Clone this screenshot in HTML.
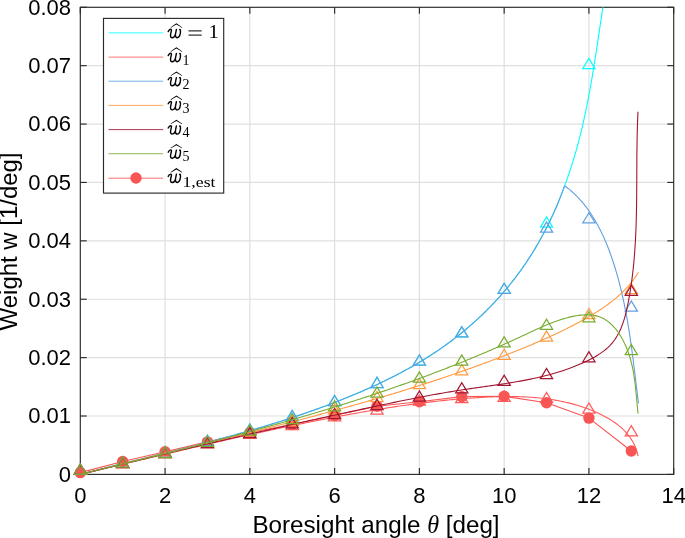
<!DOCTYPE html>
<html><head><meta charset="utf-8"><style>
html,body{margin:0;padding:0;background:#fff;}
svg{display:block;will-change:transform;}

</style></head><body>
<svg width="685" height="538" viewBox="0 0 685 538">
<rect width="685" height="538" fill="#fff"/>
<g><line x1="165.07" y1="7.3" x2="165.07" y2="474.4" stroke="#dfdfdf" stroke-width="1.2"/><line x1="249.84" y1="7.3" x2="249.84" y2="474.4" stroke="#dfdfdf" stroke-width="1.2"/><line x1="334.62" y1="7.3" x2="334.62" y2="474.4" stroke="#dfdfdf" stroke-width="1.2"/><line x1="419.39" y1="7.3" x2="419.39" y2="474.4" stroke="#dfdfdf" stroke-width="1.2"/><line x1="504.16" y1="7.3" x2="504.16" y2="474.4" stroke="#dfdfdf" stroke-width="1.2"/><line x1="588.93" y1="7.3" x2="588.93" y2="474.4" stroke="#dfdfdf" stroke-width="1.2"/><line x1="80.3" y1="416.01" x2="673.7" y2="416.01" stroke="#dfdfdf" stroke-width="1.2"/><line x1="80.3" y1="357.62" x2="673.7" y2="357.62" stroke="#dfdfdf" stroke-width="1.2"/><line x1="80.3" y1="299.23" x2="673.7" y2="299.23" stroke="#dfdfdf" stroke-width="1.2"/><line x1="80.3" y1="240.84" x2="673.7" y2="240.84" stroke="#dfdfdf" stroke-width="1.2"/><line x1="80.3" y1="182.45" x2="673.7" y2="182.45" stroke="#dfdfdf" stroke-width="1.2"/><line x1="80.3" y1="124.06" x2="673.7" y2="124.06" stroke="#dfdfdf" stroke-width="1.2"/><line x1="80.3" y1="65.67" x2="673.7" y2="65.67" stroke="#dfdfdf" stroke-width="1.2"/></g>
<defs><clipPath id="cp"><rect x="80.3" y="7.3" width="593.4" height="467.1"/></clipPath></defs>
<g><rect x="80.3" y="7.3" width="593.4" height="467.1" fill="none" stroke="#2a2a2a" stroke-width="1.15"/><line x1="80.30" y1="474.4" x2="80.30" y2="468.00" stroke="#2a2a2a" stroke-width="1.15"/><line x1="80.30" y1="7.3" x2="80.30" y2="13.70" stroke="#2a2a2a" stroke-width="1.15"/><line x1="165.07" y1="474.4" x2="165.07" y2="468.00" stroke="#2a2a2a" stroke-width="1.15"/><line x1="165.07" y1="7.3" x2="165.07" y2="13.70" stroke="#2a2a2a" stroke-width="1.15"/><line x1="249.84" y1="474.4" x2="249.84" y2="468.00" stroke="#2a2a2a" stroke-width="1.15"/><line x1="249.84" y1="7.3" x2="249.84" y2="13.70" stroke="#2a2a2a" stroke-width="1.15"/><line x1="334.62" y1="474.4" x2="334.62" y2="468.00" stroke="#2a2a2a" stroke-width="1.15"/><line x1="334.62" y1="7.3" x2="334.62" y2="13.70" stroke="#2a2a2a" stroke-width="1.15"/><line x1="419.39" y1="474.4" x2="419.39" y2="468.00" stroke="#2a2a2a" stroke-width="1.15"/><line x1="419.39" y1="7.3" x2="419.39" y2="13.70" stroke="#2a2a2a" stroke-width="1.15"/><line x1="504.16" y1="474.4" x2="504.16" y2="468.00" stroke="#2a2a2a" stroke-width="1.15"/><line x1="504.16" y1="7.3" x2="504.16" y2="13.70" stroke="#2a2a2a" stroke-width="1.15"/><line x1="588.93" y1="474.4" x2="588.93" y2="468.00" stroke="#2a2a2a" stroke-width="1.15"/><line x1="588.93" y1="7.3" x2="588.93" y2="13.70" stroke="#2a2a2a" stroke-width="1.15"/><line x1="673.70" y1="474.4" x2="673.70" y2="468.00" stroke="#2a2a2a" stroke-width="1.15"/><line x1="673.70" y1="7.3" x2="673.70" y2="13.70" stroke="#2a2a2a" stroke-width="1.15"/><line x1="80.3" y1="474.40" x2="86.70" y2="474.40" stroke="#2a2a2a" stroke-width="1.15"/><line x1="673.7" y1="474.40" x2="667.30" y2="474.40" stroke="#2a2a2a" stroke-width="1.15"/><line x1="80.3" y1="416.01" x2="86.70" y2="416.01" stroke="#2a2a2a" stroke-width="1.15"/><line x1="673.7" y1="416.01" x2="667.30" y2="416.01" stroke="#2a2a2a" stroke-width="1.15"/><line x1="80.3" y1="357.62" x2="86.70" y2="357.62" stroke="#2a2a2a" stroke-width="1.15"/><line x1="673.7" y1="357.62" x2="667.30" y2="357.62" stroke="#2a2a2a" stroke-width="1.15"/><line x1="80.3" y1="299.23" x2="86.70" y2="299.23" stroke="#2a2a2a" stroke-width="1.15"/><line x1="673.7" y1="299.23" x2="667.30" y2="299.23" stroke="#2a2a2a" stroke-width="1.15"/><line x1="80.3" y1="240.84" x2="86.70" y2="240.84" stroke="#2a2a2a" stroke-width="1.15"/><line x1="673.7" y1="240.84" x2="667.30" y2="240.84" stroke="#2a2a2a" stroke-width="1.15"/><line x1="80.3" y1="182.45" x2="86.70" y2="182.45" stroke="#2a2a2a" stroke-width="1.15"/><line x1="673.7" y1="182.45" x2="667.30" y2="182.45" stroke="#2a2a2a" stroke-width="1.15"/><line x1="80.3" y1="124.06" x2="86.70" y2="124.06" stroke="#2a2a2a" stroke-width="1.15"/><line x1="673.7" y1="124.06" x2="667.30" y2="124.06" stroke="#2a2a2a" stroke-width="1.15"/><line x1="80.3" y1="65.67" x2="86.70" y2="65.67" stroke="#2a2a2a" stroke-width="1.15"/><line x1="673.7" y1="65.67" x2="667.30" y2="65.67" stroke="#2a2a2a" stroke-width="1.15"/><line x1="80.3" y1="7.28" x2="86.70" y2="7.28" stroke="#2a2a2a" stroke-width="1.15"/><line x1="673.7" y1="7.28" x2="667.30" y2="7.28" stroke="#2a2a2a" stroke-width="1.15"/></g>
<g><g clip-path="url(#cp)"><path d="M80.30,474.40 L82.21,473.90 L84.12,473.41 L86.03,472.91 L87.94,472.42 L89.85,471.92 L91.77,471.43 L93.68,470.94 L95.59,470.45 L97.51,469.97 L99.42,469.48 L101.34,468.99 L103.25,468.51 L105.17,468.02 L107.08,467.54 L109.00,467.06 L110.92,466.58 L112.84,466.10 L114.75,465.62 L116.67,465.14 L118.59,464.66 L120.51,464.18 L122.43,463.70 L124.35,463.22 L126.27,462.74 L128.19,462.27 L130.11,461.79 L132.03,461.31 L133.95,460.84 L135.87,460.36 L137.79,459.89 L139.72,459.41 L141.64,458.93 L143.56,458.46 L145.48,457.98 L147.40,457.51 L149.32,457.03 L151.25,456.55 L153.17,456.08 L155.09,455.60 L157.01,455.12 L158.94,454.64 L160.86,454.16 L162.78,453.69 L164.70,453.21 L166.62,452.73 L168.54,452.25 L170.47,451.77 L172.39,451.28 L174.31,450.80 L176.23,450.32 L178.15,449.83 L180.07,449.35 L181.99,448.86 L183.91,448.37 L185.83,447.89 L187.75,447.40 L189.67,446.91 L191.59,446.42 L193.51,445.92 L195.43,445.43 L197.35,444.93 L199.27,444.44 L201.18,443.94 L203.10,443.44 L205.02,442.94 L206.94,442.44 L208.85,441.93 L210.77,441.43 L212.68,440.92 L214.60,440.41 L216.51,439.90 L218.42,439.39 L220.34,438.87 L222.25,438.36 L224.16,437.84 L226.07,437.32 L227.98,436.80 L229.89,436.27 L231.80,435.74 L233.71,435.22 L235.62,434.69 L237.53,434.15 L239.43,433.62 L241.34,433.08 L243.24,432.54 L245.15,432.00 L247.05,431.45 L248.96,430.90 L250.86,430.35 L252.76,429.80 L254.66,429.24 L256.56,428.69 L258.46,428.13 L260.36,427.56 L262.25,427.00 L264.15,426.43 L266.04,425.85 L267.94,425.28 L269.83,424.70 L271.72,424.12 L273.61,423.53 L275.50,422.95 L277.39,422.35 L279.28,421.76 L281.17,421.16 L283.05,420.56 L284.94,419.96 L286.82,419.35 L288.70,418.74 L290.58,418.12 L292.46,417.50 L294.34,416.88 L296.22,416.26 L298.10,415.63 L299.97,414.99 L301.85,414.36 L303.72,413.72 L305.59,413.07 L307.46,412.42 L309.33,411.77 L311.20,411.11 L313.06,410.45 L314.93,409.79 L316.79,409.12 L318.65,408.44 L320.51,407.77 L322.37,407.09 L324.23,406.40 L326.09,405.71 L327.94,405.01 L329.79,404.31 L331.64,403.61 L333.49,402.90 L335.34,402.19 L337.19,401.47 L339.03,400.75 L340.88,400.02 L342.72,399.29 L344.56,398.55 L346.40,397.81 L348.24,397.06 L350.07,396.31 L351.91,395.55 L353.74,394.79 L355.57,394.02 L357.40,393.25 L359.22,392.47 L361.04,391.69 L362.87,390.90 L364.69,390.10 L366.50,389.30 L368.32,388.50 L370.13,387.69 L371.94,386.87 L373.74,386.04 L375.54,385.21 L377.34,384.38 L379.14,383.54 L380.94,382.69 L382.73,381.83 L384.51,380.97 L386.30,380.10 L388.08,379.23 L389.85,378.35 L391.63,377.46 L393.39,376.56 L395.16,375.66 L396.92,374.75 L398.68,373.84 L400.43,372.91 L402.18,371.98 L403.92,371.04 L405.66,370.10 L407.40,369.14 L409.13,368.18 L410.85,367.21 L412.57,366.24 L414.29,365.25 L416.00,364.26 L417.70,363.26 L419.40,362.25 L421.10,361.24 L422.79,360.21 L424.47,359.18 L426.15,358.14 L427.82,357.09 L429.49,356.03 L431.15,354.96 L432.81,353.89 L434.46,352.80 L436.10,351.71 L437.74,350.61 L439.37,349.50 L440.99,348.37 L442.61,347.25 L444.22,346.11 L445.82,344.96 L447.42,343.80 L449.01,342.63 L450.60,341.46 L452.17,340.28 L453.74,339.08 L455.31,337.88 L456.86,336.67 L458.41,335.45 L459.96,334.22 L461.49,332.98 L463.02,331.74 L464.54,330.48 L466.05,329.22 L467.56,327.94 L469.05,326.66 L470.54,325.37 L472.03,324.07 L473.50,322.77 L474.97,321.45 L476.43,320.12 L477.88,318.79 L479.32,317.45 L480.76,316.10 L482.19,314.74 L483.60,313.37 L485.02,311.99 L486.42,310.61 L487.81,309.22 L489.20,307.82 L490.58,306.41 L491.94,304.99 L493.30,303.56 L494.66,302.13 L496.00,300.68 L497.33,299.23 L498.66,297.77 L499.97,296.30 L501.28,294.83 L502.58,293.34 L503.87,291.85 L505.15,290.35 L506.42,288.84 L507.68,287.32 L508.93,285.80 L510.17,284.27 L511.41,282.72 L512.63,281.18 L513.85,279.62 L515.05,278.05 L516.24,276.48 L517.43,274.90 L518.60,273.31 L519.77,271.71 L520.93,270.11 L522.07,268.50 L523.21,266.88 L524.33,265.25 L525.45,263.62 L526.55,261.98 L527.65,260.33 L528.74,258.67 L529.81,257.01 L530.88,255.34 L531.93,253.67 L532.98,251.98 L534.02,250.29 L535.04,248.60 L536.06,246.89 L537.07,245.19 L538.06,243.47 L539.05,241.75 L540.02,240.02 L540.99,238.29 L541.95,236.55 L542.89,234.80 L543.83,233.05 L544.76,231.30 L545.67,229.53 L546.58,227.77 L547.47,225.99 L548.36,224.21 L549.23,222.43 L550.10,220.64 L550.95,218.85 L551.80,217.05 L552.63,215.25 L553.46,213.44 L554.27,211.62 L555.08,209.81 L555.87,207.98 L556.65,206.16 L557.43,204.33 L558.19,202.49 L558.94,200.65 L559.69,198.81 L560.42,196.96 L561.14,195.11 L561.85,193.26 L562.56,191.40 L563.25,189.53 L563.93,187.67 L564.60,185.80" fill="none" stroke="#00ffff" stroke-width="1.1" stroke-linejoin="round"/><path d="M564.60,185.80 L564.83,185.20 L565.05,184.59 L565.28,183.99 L565.50,183.38 L565.73,182.78 L565.95,182.17 L566.17,181.57 L566.39,180.96 L566.61,180.35 L566.83,179.75 L567.05,179.14 L567.27,178.53 L567.48,177.92 L567.70,177.32 L567.91,176.71 L568.12,176.10 L568.33,175.49 L568.54,174.88 L568.75,174.27 L568.96,173.67 L569.17,173.06 L569.38,172.45 L569.58,171.84 L569.79,171.23 L569.99,170.62 L570.20,170.00 L570.40,169.39 L570.60,168.78 L570.80,168.17 L571.00,167.56 L571.20,166.95 L571.39,166.33 L571.59,165.72 L571.79,165.11 L571.98,164.50 L572.17,163.88 L572.37,163.27 L572.56,162.65 L572.75,162.04 L572.94,161.43 L573.13,160.81 L573.32,160.20 L573.51,159.58 L573.69,158.97 L573.88,158.35 L574.06,157.74 L574.25,157.12 L574.43,156.50 L574.61,155.89 L574.79,155.27 L574.97,154.65 L575.15,154.04 L575.33,153.42 L575.51,152.80 L575.69,152.18 L575.87,151.57 L576.04,150.95 L576.22,150.33 L576.39,149.71 L576.56,149.09 L576.74,148.47 L576.91,147.85 L577.08,147.24 L577.25,146.62 L577.42,146.00 L577.59,145.38 L577.75,144.76 L577.92,144.14 L578.09,143.51 L578.25,142.89 L578.42,142.27 L578.58,141.65 L578.74,141.03 L578.91,140.41 L579.07,139.79 L579.23,139.17 L579.39,138.54 L579.55,137.92 L579.71,137.30 L579.87,136.68 L580.02,136.05 L580.18,135.43 L580.34,134.81 L580.49,134.18 L580.64,133.56 L580.80,132.93 L580.95,132.31 L581.10,131.69 L581.26,131.06 L581.41,130.44 L581.56,129.81 L581.71,129.19 L581.86,128.56 L582.00,127.94 L582.15,127.31 L582.30,126.69 L582.44,126.06 L582.59,125.44 L582.74,124.81 L582.88,124.18 L583.02,123.56 L583.17,122.93 L583.31,122.30 L583.45,121.68 L583.59,121.05 L583.73,120.42 L583.87,119.79 L584.01,119.17 L584.15,118.54 L584.29,117.91 L584.43,117.28 L584.56,116.66 L584.70,116.03 L584.84,115.40 L584.97,114.77 L585.11,114.14 L585.24,113.51 L585.37,112.88 L585.51,112.26 L585.64,111.63 L585.77,111.00 L585.90,110.37 L586.03,109.74 L586.16,109.11 L586.29,108.48 L586.42,107.85 L586.55,107.22 L586.68,106.59 L586.81,105.96 L586.93,105.33 L587.06,104.70 L587.19,104.07 L587.31,103.43 L587.44,102.80 L587.56,102.17 L587.68,101.54 L587.81,100.91 L587.93,100.28 L588.05,99.65 L588.18,99.02 L588.30,98.38 L588.42,97.75 L588.54,97.12 L588.66,96.49 L588.78,95.86 L588.90,95.22 L589.02,94.59 L589.14,93.96 L589.25,93.33 L589.37,92.69 L589.49,92.06 L589.60,91.43 L589.72,90.79 L589.84,90.16 L589.95,89.53 L590.07,88.89 L590.18,88.26 L590.30,87.63 L590.41,86.99 L590.52,86.36 L590.64,85.73 L590.75,85.09 L590.86,84.46 L590.97,83.82 L591.08,83.19 L591.19,82.56 L591.31,81.92 L591.42,81.29 L591.53,80.65 L591.64,80.02 L591.74,79.38 L591.85,78.75 L591.96,78.11 L592.07,77.48 L592.18,76.84 L592.29,76.21 L592.39,75.58 L592.50,74.94 L592.61,74.30 L592.71,73.67 L592.82,73.03 L592.92,72.40 L593.03,71.76 L593.13,71.13 L593.24,70.49 L593.34,69.86 L593.45,69.22 L593.55,68.59 L593.66,67.95 L593.76,67.32 L593.86,66.68 L593.97,66.04 L594.07,65.41 L594.17,64.77 L594.27,64.14 L594.37,63.50 L594.48,62.86 L594.58,62.23 L594.68,61.59 L594.78,60.96 L594.88,60.32 L594.98,59.68 L595.08,59.05 L595.18,58.41 L595.28,57.77 L595.38,57.14 L595.48,56.50 L595.58,55.87 L595.68,55.23 L595.78,54.59 L595.87,53.96 L595.97,53.32 L596.07,52.68 L596.17,52.05 L596.27,51.41 L596.36,50.77 L596.46,50.14 L596.56,49.50 L596.66,48.86 L596.75,48.23 L596.85,47.59 L596.95,46.95 L597.04,46.32 L597.14,45.68 L597.24,45.04 L597.33,44.41 L597.43,43.77 L597.53,43.13 L597.62,42.50 L597.72,41.86 L597.81,41.22 L597.91,40.59 L598.00,39.95 L598.10,39.31 L598.19,38.68 L598.29,38.04 L598.39,37.40 L598.48,36.77 L598.58,36.13 L598.67,35.49 L598.77,34.86 L598.86,34.22 L598.95,33.58 L599.05,32.95 L599.14,32.31 L599.24,31.67 L599.33,31.04 L599.43,30.40 L599.52,29.76 L599.62,29.13 L599.71,28.49 L599.81,27.86 L599.90,27.22 L599.99,26.58 L600.09,25.95 L600.18,25.31 L600.28,24.67 L600.37,24.04 L600.47,23.40 L600.56,22.77 L600.66,22.13 L600.75,21.49 L600.85,20.86 L600.94,20.22 L601.03,19.59 L601.13,18.95 L601.22,18.31 L601.32,17.68 L601.41,17.04 L601.51,16.41 L601.60,15.77 L601.70,15.14 L601.79,14.50 L601.89,13.86 L601.98,13.23 L602.08,12.59 L602.17,11.96 L602.27,11.32 L602.36,10.69 L602.46,10.05 L602.56,9.42 L602.65,8.78 L602.75,8.15 L602.84,7.51 L602.94,6.88 L603.04,6.24 L603.13,5.61 L603.23,4.97 L603.33,4.34 L603.42,3.71 L603.52,3.07 L603.62,2.44 L603.71,1.80 L603.81,1.17 L603.91,0.54 L604.01,-0.10 L604.10,-0.73 L604.20,-1.37 L604.30,-2.00" fill="none" stroke="#00ffff" stroke-width="1.1" stroke-linejoin="round"/></g><path d="M74.20,474.40L86.40,474.40L80.30,464.20Z" fill="none" stroke="#00ffff" stroke-width="1.25" stroke-linejoin="miter"/><path d="M116.59,467.49L128.79,467.49L122.69,457.29Z" fill="none" stroke="#00ffff" stroke-width="1.25" stroke-linejoin="miter"/><path d="M158.97,456.63L171.17,456.63L165.07,446.43Z" fill="none" stroke="#00ffff" stroke-width="1.25" stroke-linejoin="miter"/><path d="M201.36,445.30L213.56,445.30L207.46,435.10Z" fill="none" stroke="#00ffff" stroke-width="1.25" stroke-linejoin="miter"/><path d="M243.74,434.09L255.94,434.09L249.84,423.89Z" fill="none" stroke="#00ffff" stroke-width="1.25" stroke-linejoin="miter"/><path d="M286.13,420.60L298.33,420.60L292.23,410.40Z" fill="none" stroke="#00ffff" stroke-width="1.25" stroke-linejoin="miter"/><path d="M328.52,405.70L340.72,405.70L334.62,395.50Z" fill="none" stroke="#00ffff" stroke-width="1.25" stroke-linejoin="miter"/><path d="M370.90,387.50L383.10,387.50L377.00,377.30Z" fill="none" stroke="#00ffff" stroke-width="1.25" stroke-linejoin="miter"/><path d="M413.29,365.10L425.49,365.10L419.39,354.90Z" fill="none" stroke="#00ffff" stroke-width="1.25" stroke-linejoin="miter"/><path d="M455.67,336.90L467.87,336.90L461.77,326.70Z" fill="none" stroke="#00ffff" stroke-width="1.25" stroke-linejoin="miter"/><path d="M498.06,293.30L510.26,293.30L504.16,283.10Z" fill="none" stroke="#00ffff" stroke-width="1.25" stroke-linejoin="miter"/><path d="M540.45,227.10L552.65,227.10L546.55,216.90Z" fill="none" stroke="#00ffff" stroke-width="1.25" stroke-linejoin="miter"/><path d="M582.83,68.70L595.03,68.70L588.93,58.50Z" fill="none" stroke="#00ffff" stroke-width="1.25" stroke-linejoin="miter"/><g clip-path="url(#cp)"><path d="M80.30,474.40 L82.21,473.95 L84.11,473.50 L86.02,473.04 L87.93,472.59 L89.84,472.13 L91.75,471.68 L93.66,471.23 L95.57,470.77 L97.48,470.32 L99.39,469.86 L101.30,469.41 L103.21,468.95 L105.12,468.49 L107.03,468.04 L108.94,467.58 L110.85,467.12 L112.76,466.67 L114.68,466.21 L116.59,465.75 L118.50,465.30 L120.42,464.84 L122.33,464.38 L124.24,463.92 L126.16,463.47 L128.07,463.01 L129.99,462.55 L131.90,462.09 L133.82,461.63 L135.73,461.18 L137.65,460.72 L139.56,460.26 L141.48,459.80 L143.40,459.35 L145.31,458.89 L147.23,458.43 L149.15,457.98 L151.07,457.52 L152.98,457.06 L154.90,456.61 L156.82,456.15 L158.74,455.69 L160.66,455.24 L162.58,454.78 L164.50,454.33 L166.41,453.87 L168.33,453.42 L170.25,452.96 L172.17,452.51 L174.10,452.06 L176.02,451.60 L177.94,451.15 L179.86,450.70 L181.78,450.25 L183.70,449.79 L185.62,449.34 L187.54,448.89 L189.47,448.44 L191.39,447.99 L193.31,447.54 L195.23,447.09 L197.16,446.65 L199.08,446.20 L201.00,445.75 L202.93,445.31 L204.85,444.86 L206.77,444.42 L208.70,443.97 L210.62,443.53 L212.55,443.08 L214.47,442.64 L216.40,442.20 L218.32,441.76 L220.25,441.32 L222.17,440.88 L224.10,440.44 L226.02,440.00 L227.95,439.57 L229.87,439.13 L231.80,438.70 L233.73,438.26 L235.65,437.83 L237.58,437.39 L239.51,436.96 L241.43,436.53 L243.36,436.10 L245.29,435.67 L247.22,435.25 L249.14,434.82 L251.07,434.39 L253.00,433.97 L254.93,433.54 L256.85,433.12 L258.78,432.70 L260.71,432.28 L262.64,431.86 L264.57,431.44 L266.50,431.02 L268.42,430.61 L270.35,430.19 L272.28,429.78 L274.21,429.37 L276.14,428.96 L278.07,428.55 L280.00,428.14 L281.93,427.73 L283.86,427.32 L285.79,426.92 L287.72,426.52 L289.65,426.11 L291.58,425.71 L293.51,425.31 L295.44,424.92 L297.37,424.52 L299.30,424.12 L301.23,423.73 L303.16,423.34 L305.09,422.95 L307.02,422.56 L308.95,422.17 L310.88,421.78 L312.81,421.40 L314.74,421.02 L316.67,420.63 L318.60,420.25 L320.53,419.88 L322.46,419.50 L324.39,419.12 L326.32,418.75 L328.26,418.38 L330.19,418.01 L332.12,417.64 L334.05,417.27 L335.98,416.91 L337.91,416.55 L339.84,416.18 L341.77,415.82 L343.71,415.47 L345.64,415.11 L347.57,414.76 L349.50,414.40 L351.43,414.05 L353.36,413.71 L355.29,413.36 L357.23,413.01 L359.16,412.67 L361.09,412.33 L363.02,411.99 L364.95,411.66 L366.89,411.32 L368.82,410.99 L370.75,410.66 L372.68,410.34 L374.62,410.01 L376.55,409.69 L378.49,409.37 L380.42,409.05 L382.35,408.74 L384.29,408.43 L386.23,408.12 L388.16,407.81 L390.10,407.51 L392.04,407.21 L393.97,406.91 L395.91,406.62 L397.85,406.33 L399.79,406.04 L401.73,405.75 L403.67,405.47 L405.61,405.19 L407.55,404.92 L409.50,404.65 L411.44,404.38 L413.39,404.11 L415.33,403.85 L417.28,403.59 L419.22,403.34 L421.17,403.09 L423.12,402.84 L425.07,402.59 L427.02,402.35 L428.97,402.12 L430.93,401.89 L432.88,401.66 L434.83,401.43 L436.79,401.21 L438.75,401.00 L440.71,400.78 L442.66,400.58 L444.63,400.37 L446.59,400.17 L448.55,399.98 L450.51,399.78 L452.48,399.60 L454.45,399.41 L456.41,399.24 L458.38,399.06 L460.35,398.89 L462.33,398.73 L464.30,398.57 L466.27,398.42 L468.25,398.27 L470.23,398.12 L472.21,397.98 L474.19,397.85 L476.17,397.71 L478.16,397.59 L480.14,397.47 L482.13,397.36 L484.12,397.25 L486.10,397.15 L488.09,397.05 L490.08,396.96 L492.07,396.88 L494.06,396.81 L496.06,396.75 L498.05,396.69 L500.04,396.64 L502.03,396.61 L504.02,396.58 L506.01,396.56 L508.00,396.55 L509.98,396.55 L511.97,396.56 L513.96,396.58 L515.94,396.61 L517.92,396.66 L519.91,396.72 L521.89,396.78 L523.86,396.87 L525.84,396.96 L527.81,397.07 L529.79,397.19 L531.75,397.32 L533.72,397.47 L535.68,397.63 L537.64,397.81 L539.60,398.00 L541.56,398.21 L543.51,398.43 L545.46,398.67 L547.40,398.93 L549.34,399.20 L551.28,399.49 L553.21,399.79 L555.14,400.12 L557.06,400.46 L558.98,400.82 L560.89,401.19 L562.80,401.59 L564.71,402.01 L566.61,402.44 L568.50,402.90 L570.39,403.37 L572.27,403.87 L574.15,404.38 L576.02,404.92 L577.89,405.48 L579.75,406.06 L581.60,406.66 L583.45,407.29 L585.29,407.93 L587.13,408.60 L588.95,409.30 L590.77,410.01 L592.59,410.75 L594.39,411.52 L596.19,412.31 L597.98,413.12 L599.76,413.96 L601.54,414.82 L603.30,415.72 L605.04,416.64 L606.77,417.59 L608.49,418.57 L610.17,419.58 L611.84,420.62 L613.48,421.70 L615.09,422.82 L616.67,423.97 L618.22,425.16 L619.73,426.39 L621.20,427.65 L622.63,428.96 L624.02,430.31 L625.36,431.71 L626.66,433.14 L627.90,434.63 L629.09,436.16 L630.23,437.73 L631.31,439.36 L632.33,441.03 L633.29,442.75 L634.19,444.52 L635.02,446.33 L635.78,448.20 L636.47,450.12 L637.09,452.10 L637.63,454.12 L638.10,456.20" fill="none" stroke="#ff5a5a" stroke-width="1.1" stroke-linejoin="round"/></g><path d="M74.20,474.40L86.40,474.40L80.30,464.20Z" fill="none" stroke="#ff5a5a" stroke-width="1.25" stroke-linejoin="miter"/><path d="M116.59,467.72L128.79,467.72L122.69,457.52Z" fill="none" stroke="#ff5a5a" stroke-width="1.25" stroke-linejoin="miter"/><path d="M158.97,457.68L171.17,457.68L165.07,447.48Z" fill="none" stroke="#ff5a5a" stroke-width="1.25" stroke-linejoin="miter"/><path d="M201.36,447.93L213.56,447.93L207.46,437.73Z" fill="none" stroke="#ff5a5a" stroke-width="1.25" stroke-linejoin="miter"/><path d="M243.74,438.29L255.94,438.29L249.84,428.09Z" fill="none" stroke="#ff5a5a" stroke-width="1.25" stroke-linejoin="miter"/><path d="M286.13,429.54L298.33,429.54L292.23,419.34Z" fill="none" stroke="#ff5a5a" stroke-width="1.25" stroke-linejoin="miter"/><path d="M328.52,420.78L340.72,420.78L334.62,410.58Z" fill="none" stroke="#ff5a5a" stroke-width="1.25" stroke-linejoin="miter"/><path d="M370.90,414.04L383.10,414.04L377.00,403.84Z" fill="none" stroke="#ff5a5a" stroke-width="1.25" stroke-linejoin="miter"/><path d="M413.29,405.07L425.49,405.07L419.39,394.87Z" fill="none" stroke="#ff5a5a" stroke-width="1.25" stroke-linejoin="miter"/><path d="M455.67,402.70L467.87,402.70L461.77,392.50Z" fill="none" stroke="#ff5a5a" stroke-width="1.25" stroke-linejoin="miter"/><path d="M498.06,401.40L510.26,401.40L504.16,391.20Z" fill="none" stroke="#ff5a5a" stroke-width="1.25" stroke-linejoin="miter"/><path d="M540.45,402.70L552.65,402.70L546.55,392.50Z" fill="none" stroke="#ff5a5a" stroke-width="1.25" stroke-linejoin="miter"/><path d="M582.83,413.10L595.03,413.10L588.93,402.90Z" fill="none" stroke="#ff5a5a" stroke-width="1.25" stroke-linejoin="miter"/><path d="M625.22,435.90L637.42,435.90L631.32,425.70Z" fill="none" stroke="#ff5a5a" stroke-width="1.25" stroke-linejoin="miter"/><g clip-path="url(#cp)"><polyline points="80.30,472.65 122.69,461.50 165.07,451.74 207.46,441.88 249.84,432.48 292.23,424.48 334.62,415.43 377.00,406.32 419.39,401.82 461.77,396.60 504.16,396.30 546.55,402.80 588.93,418.10 631.32,451.00" fill="none" stroke="#f85555" stroke-width="1.1" stroke-linejoin="round"/></g><circle cx="80.30" cy="472.65" r="5.7" fill="#f85555"/><circle cx="122.69" cy="461.50" r="5.7" fill="#f85555"/><circle cx="165.07" cy="451.74" r="5.7" fill="#f85555"/><circle cx="207.46" cy="441.88" r="5.7" fill="#f85555"/><circle cx="249.84" cy="432.48" r="5.7" fill="#f85555"/><circle cx="292.23" cy="424.48" r="5.7" fill="#f85555"/><circle cx="334.62" cy="415.43" r="5.7" fill="#f85555"/><circle cx="377.00" cy="406.32" r="5.7" fill="#f85555"/><circle cx="419.39" cy="401.82" r="5.7" fill="#f85555"/><circle cx="461.77" cy="396.60" r="5.7" fill="#f85555"/><circle cx="504.16" cy="396.30" r="5.7" fill="#f85555"/><circle cx="546.55" cy="402.80" r="5.7" fill="#f85555"/><circle cx="588.93" cy="418.10" r="5.7" fill="#f85555"/><circle cx="631.32" cy="451.00" r="5.7" fill="#f85555"/><g clip-path="url(#cp)"><path d="M80.30,474.40 L82.21,473.90 L84.12,473.41 L86.03,472.91 L87.94,472.42 L89.85,471.92 L91.77,471.43 L93.68,470.94 L95.59,470.45 L97.51,469.97 L99.42,469.48 L101.34,468.99 L103.25,468.51 L105.17,468.02 L107.08,467.54 L109.00,467.06 L110.92,466.58 L112.84,466.10 L114.75,465.62 L116.67,465.14 L118.59,464.66 L120.51,464.18 L122.43,463.70 L124.35,463.22 L126.27,462.74 L128.19,462.27 L130.11,461.79 L132.03,461.31 L133.95,460.84 L135.87,460.36 L137.79,459.89 L139.72,459.41 L141.64,458.93 L143.56,458.46 L145.48,457.98 L147.40,457.51 L149.32,457.03 L151.25,456.55 L153.17,456.08 L155.09,455.60 L157.01,455.12 L158.94,454.64 L160.86,454.16 L162.78,453.69 L164.70,453.21 L166.62,452.73 L168.54,452.25 L170.47,451.77 L172.39,451.28 L174.31,450.80 L176.23,450.32 L178.15,449.83 L180.07,449.35 L181.99,448.86 L183.91,448.37 L185.83,447.89 L187.75,447.40 L189.67,446.91 L191.59,446.42 L193.51,445.92 L195.43,445.43 L197.35,444.93 L199.27,444.44 L201.18,443.94 L203.10,443.44 L205.02,442.94 L206.94,442.44 L208.85,441.93 L210.77,441.43 L212.68,440.92 L214.60,440.41 L216.51,439.90 L218.42,439.39 L220.34,438.87 L222.25,438.36 L224.16,437.84 L226.07,437.32 L227.98,436.80 L229.89,436.27 L231.80,435.74 L233.71,435.22 L235.62,434.69 L237.53,434.15 L239.43,433.62 L241.34,433.08 L243.24,432.54 L245.15,432.00 L247.05,431.45 L248.96,430.90 L250.86,430.35 L252.76,429.80 L254.66,429.24 L256.56,428.69 L258.46,428.13 L260.36,427.56 L262.25,427.00 L264.15,426.43 L266.04,425.85 L267.94,425.28 L269.83,424.70 L271.72,424.12 L273.61,423.53 L275.50,422.95 L277.39,422.35 L279.28,421.76 L281.17,421.16 L283.05,420.56 L284.94,419.96 L286.82,419.35 L288.70,418.74 L290.58,418.12 L292.46,417.50 L294.34,416.88 L296.22,416.26 L298.10,415.63 L299.97,414.99 L301.85,414.36 L303.72,413.72 L305.59,413.07 L307.46,412.42 L309.33,411.77 L311.20,411.11 L313.06,410.45 L314.93,409.79 L316.79,409.12 L318.65,408.44 L320.51,407.77 L322.37,407.09 L324.23,406.40 L326.09,405.71 L327.94,405.01 L329.79,404.31 L331.64,403.61 L333.49,402.90 L335.34,402.19 L337.19,401.47 L339.03,400.75 L340.88,400.02 L342.72,399.29 L344.56,398.55 L346.40,397.81 L348.24,397.06 L350.07,396.31 L351.91,395.55 L353.74,394.79 L355.57,394.02 L357.40,393.25 L359.22,392.47 L361.04,391.69 L362.87,390.90 L364.69,390.10 L366.50,389.30 L368.32,388.50 L370.13,387.69 L371.94,386.87 L373.74,386.04 L375.54,385.21 L377.34,384.38 L379.14,383.54 L380.94,382.69 L382.73,381.83 L384.51,380.97 L386.30,380.10 L388.08,379.23 L389.85,378.35 L391.63,377.46 L393.39,376.56 L395.16,375.66 L396.92,374.75 L398.68,373.84 L400.43,372.91 L402.18,371.98 L403.92,371.04 L405.66,370.10 L407.40,369.14 L409.13,368.18 L410.85,367.21 L412.57,366.24 L414.29,365.25 L416.00,364.26 L417.70,363.26 L419.40,362.25 L421.10,361.24 L422.79,360.21 L424.47,359.18 L426.15,358.14 L427.82,357.09 L429.49,356.03 L431.15,354.96 L432.81,353.89 L434.46,352.80 L436.10,351.71 L437.74,350.61 L439.37,349.50 L440.99,348.37 L442.61,347.25 L444.22,346.11 L445.82,344.96 L447.42,343.80 L449.01,342.63 L450.60,341.46 L452.17,340.28 L453.74,339.08 L455.31,337.88 L456.86,336.67 L458.41,335.45 L459.96,334.22 L461.49,332.98 L463.02,331.74 L464.54,330.48 L466.05,329.22 L467.56,327.94 L469.05,326.66 L470.54,325.37 L472.03,324.07 L473.50,322.77 L474.97,321.45 L476.43,320.12 L477.88,318.79 L479.32,317.45 L480.76,316.10 L482.19,314.74 L483.60,313.37 L485.02,311.99 L486.42,310.61 L487.81,309.22 L489.20,307.82 L490.58,306.41 L491.94,304.99 L493.30,303.56 L494.66,302.13 L496.00,300.68 L497.33,299.23 L498.66,297.77 L499.97,296.30 L501.28,294.83 L502.58,293.34 L503.87,291.85 L505.15,290.35 L506.42,288.84 L507.68,287.32 L508.93,285.80 L510.17,284.27 L511.41,282.72 L512.63,281.18 L513.85,279.62 L515.05,278.05 L516.24,276.48 L517.43,274.90 L518.60,273.31 L519.77,271.71 L520.93,270.11 L522.07,268.50 L523.21,266.88 L524.33,265.25 L525.45,263.62 L526.55,261.98 L527.65,260.33 L528.74,258.67 L529.81,257.01 L530.88,255.34 L531.93,253.67 L532.98,251.98 L534.02,250.29 L535.04,248.60 L536.06,246.89 L537.07,245.19 L538.06,243.47 L539.05,241.75 L540.02,240.02 L540.99,238.29 L541.95,236.55 L542.89,234.80 L543.83,233.05 L544.76,231.30 L545.67,229.53 L546.58,227.77 L547.47,225.99 L548.36,224.21 L549.23,222.43 L550.10,220.64 L550.95,218.85 L551.80,217.05 L552.63,215.25 L553.46,213.44 L554.27,211.62 L555.08,209.81 L555.87,207.98 L556.65,206.16 L557.43,204.33 L558.19,202.49 L558.94,200.65 L559.69,198.81 L560.42,196.96 L561.14,195.11 L561.85,193.26 L562.56,191.40 L563.25,189.53 L563.93,187.67 L564.60,185.80" fill="none" stroke="#5fa0e0" stroke-width="1.1" stroke-linejoin="round"/><path d="M564.60,185.80 L565.25,186.27 L565.89,186.74 L566.53,187.22 L567.16,187.71 L567.78,188.20 L568.40,188.69 L569.02,189.19 L569.63,189.69 L570.24,190.20 L570.84,190.71 L571.43,191.23 L572.03,191.75 L572.61,192.27 L573.20,192.80 L573.77,193.33 L574.35,193.87 L574.91,194.41 L575.48,194.96 L576.04,195.51 L576.59,196.06 L577.14,196.62 L577.68,197.18 L578.22,197.74 L578.76,198.31 L579.29,198.89 L579.82,199.46 L580.34,200.04 L580.86,200.63 L581.38,201.22 L581.89,201.81 L582.39,202.40 L582.89,203.00 L583.39,203.60 L583.88,204.20 L584.37,204.81 L584.86,205.42 L585.34,206.04 L585.82,206.66 L586.29,207.28 L586.76,207.90 L587.22,208.53 L587.69,209.16 L588.14,209.79 L588.60,210.43 L589.05,211.07 L589.49,211.71 L589.93,212.35 L590.37,213.00 L590.81,213.65 L591.24,214.30 L591.67,214.96 L592.09,215.62 L592.51,216.28 L592.93,216.94 L593.34,217.61 L593.75,218.27 L594.16,218.95 L594.56,219.62 L594.97,220.29 L595.36,220.97 L595.76,221.65 L596.15,222.33 L596.53,223.01 L596.92,223.70 L597.30,224.39 L597.68,225.08 L598.05,225.77 L598.42,226.46 L598.79,227.16 L599.15,227.85 L599.52,228.55 L599.88,229.25 L600.23,229.96 L600.59,230.66 L600.94,231.37 L601.28,232.08 L601.63,232.79 L601.97,233.50 L602.31,234.21 L602.64,234.92 L602.98,235.64 L603.31,236.36 L603.64,237.08 L603.96,237.80 L604.28,238.52 L604.60,239.24 L604.92,239.97 L605.23,240.70 L605.54,241.42 L605.85,242.15 L606.16,242.88 L606.46,243.62 L606.76,244.35 L607.06,245.08 L607.36,245.82 L607.65,246.55 L607.94,247.29 L608.23,248.03 L608.52,248.77 L608.80,249.51 L609.09,250.25 L609.37,250.99 L609.64,251.74 L609.92,252.48 L610.19,253.23 L610.46,253.97 L610.73,254.72 L610.99,255.47 L611.26,256.22 L611.52,256.97 L611.78,257.72 L612.04,258.47 L612.29,259.22 L612.55,259.97 L612.80,260.72 L613.05,261.48 L613.29,262.23 L613.54,262.98 L613.78,263.74 L614.02,264.49 L614.26,265.25 L614.50,266.01 L614.74,266.76 L614.97,267.52 L615.20,268.28 L615.43,269.03 L615.66,269.79 L615.89,270.55 L616.11,271.31 L616.34,272.07 L616.56,272.83 L616.78,273.59 L617.00,274.35 L617.21,275.11 L617.43,275.87 L617.64,276.63 L617.85,277.39 L618.06,278.15 L618.27,278.91 L618.47,279.68 L618.68,280.44 L618.88,281.20 L619.08,281.97 L619.28,282.73 L619.48,283.49 L619.68,284.26 L619.87,285.02 L620.06,285.79 L620.26,286.55 L620.45,287.32 L620.63,288.09 L620.82,288.85 L621.01,289.62 L621.19,290.39 L621.37,291.15 L621.56,291.92 L621.74,292.69 L621.91,293.46 L622.09,294.23 L622.27,295.00 L622.44,295.77 L622.61,296.53 L622.78,297.30 L622.95,298.07 L623.12,298.85 L623.29,299.62 L623.46,300.39 L623.62,301.16 L623.78,301.93 L623.95,302.70 L624.11,303.47 L624.27,304.25 L624.43,305.02 L624.58,305.79 L624.74,306.56 L624.89,307.34 L625.05,308.11 L625.20,308.88 L625.35,309.66 L625.50,310.43 L625.65,311.21 L625.80,311.98 L625.94,312.76 L626.09,313.53 L626.23,314.31 L626.37,315.08 L626.52,315.86 L626.66,316.63 L626.80,317.41 L626.94,318.19 L627.07,318.96 L627.21,319.74 L627.35,320.52 L627.48,321.29 L627.62,322.07 L627.75,322.85 L627.88,323.62 L628.01,324.40 L628.14,325.18 L628.27,325.96 L628.40,326.74 L628.53,327.52 L628.65,328.29 L628.78,329.07 L628.90,329.85 L629.03,330.63 L629.15,331.41 L629.27,332.19 L629.39,332.97 L629.51,333.75 L629.63,334.53 L629.75,335.31 L629.87,336.09 L629.99,336.87 L630.10,337.65 L630.22,338.43 L630.33,339.21 L630.45,339.99 L630.56,340.77 L630.68,341.56 L630.79,342.34 L630.90,343.12 L631.01,343.90 L631.12,344.68 L631.23,345.46 L631.34,346.25 L631.45,347.03 L631.56,347.81 L631.67,348.59 L631.77,349.37 L631.88,350.16 L631.98,350.94 L632.09,351.72 L632.19,352.50 L632.30,353.29 L632.40,354.07 L632.51,354.85 L632.61,355.63 L632.71,356.42 L632.81,357.20 L632.92,357.98 L633.02,358.77 L633.12,359.55 L633.22,360.33 L633.32,361.11 L633.42,361.90 L633.52,362.68 L633.62,363.46 L633.71,364.25 L633.81,365.03 L633.91,365.82 L634.01,366.60 L634.11,367.38 L634.20,368.17 L634.30,368.95 L634.40,369.73 L634.49,370.52 L634.59,371.30 L634.69,372.08 L634.78,372.87 L634.88,373.65 L634.97,374.43 L635.07,375.22 L635.16,376.00 L635.26,376.78 L635.35,377.57 L635.45,378.35 L635.54,379.14 L635.64,379.92 L635.73,380.70 L635.83,381.49 L635.92,382.27 L636.02,383.05 L636.11,383.84 L636.21,384.62 L636.30,385.40 L636.39,386.19 L636.49,386.97 L636.58,387.75 L636.68,388.54 L636.77,389.32 L636.87,390.10 L636.96,390.88 L637.06,391.67 L637.15,392.45 L637.25,393.23 L637.34,394.01 L637.44,394.80 L637.53,395.58 L637.63,396.36 L637.72,397.14 L637.82,397.93 L637.92,398.71 L638.01,399.49 L638.11,400.27 L638.21,401.05 L638.30,401.84 L638.40,402.62 L638.50,403.40" fill="none" stroke="#5fa0e0" stroke-width="1.1" stroke-linejoin="round"/></g><path d="M74.20,474.40L86.40,474.40L80.30,464.20Z" fill="none" stroke="#5fa0e0" stroke-width="1.25" stroke-linejoin="miter"/><path d="M116.59,467.49L128.79,467.49L122.69,457.29Z" fill="none" stroke="#5fa0e0" stroke-width="1.25" stroke-linejoin="miter"/><path d="M158.97,456.63L171.17,456.63L165.07,446.43Z" fill="none" stroke="#5fa0e0" stroke-width="1.25" stroke-linejoin="miter"/><path d="M201.36,445.30L213.56,445.30L207.46,435.10Z" fill="none" stroke="#5fa0e0" stroke-width="1.25" stroke-linejoin="miter"/><path d="M243.74,434.09L255.94,434.09L249.84,423.89Z" fill="none" stroke="#5fa0e0" stroke-width="1.25" stroke-linejoin="miter"/><path d="M286.13,420.60L298.33,420.60L292.23,410.40Z" fill="none" stroke="#5fa0e0" stroke-width="1.25" stroke-linejoin="miter"/><path d="M328.52,405.70L340.72,405.70L334.62,395.50Z" fill="none" stroke="#5fa0e0" stroke-width="1.25" stroke-linejoin="miter"/><path d="M370.90,387.50L383.10,387.50L377.00,377.30Z" fill="none" stroke="#5fa0e0" stroke-width="1.25" stroke-linejoin="miter"/><path d="M413.29,365.10L425.49,365.10L419.39,354.90Z" fill="none" stroke="#5fa0e0" stroke-width="1.25" stroke-linejoin="miter"/><path d="M455.67,336.90L467.87,336.90L461.77,326.70Z" fill="none" stroke="#5fa0e0" stroke-width="1.25" stroke-linejoin="miter"/><path d="M498.06,293.30L510.26,293.30L504.16,283.10Z" fill="none" stroke="#5fa0e0" stroke-width="1.25" stroke-linejoin="miter"/><path d="M540.45,232.10L552.65,232.10L546.55,221.90Z" fill="none" stroke="#5fa0e0" stroke-width="1.25" stroke-linejoin="miter"/><path d="M582.83,222.80L595.03,222.80L588.93,212.60Z" fill="none" stroke="#5fa0e0" stroke-width="1.25" stroke-linejoin="miter"/><path d="M625.22,311.20L637.42,311.20L631.32,301.00Z" fill="none" stroke="#5fa0e0" stroke-width="1.25" stroke-linejoin="miter"/><g clip-path="url(#cp)"><path d="M80.30,474.40 L82.25,473.90 L84.19,473.40 L86.14,472.90 L88.08,472.40 L90.03,471.91 L91.97,471.41 L93.92,470.91 L95.87,470.42 L97.82,469.93 L99.77,469.43 L101.71,468.94 L103.66,468.45 L105.61,467.96 L107.56,467.47 L109.51,466.98 L111.46,466.49 L113.41,466.00 L115.36,465.52 L117.31,465.03 L119.26,464.55 L121.21,464.06 L123.17,463.58 L125.12,463.09 L127.07,462.61 L129.02,462.12 L130.98,461.64 L132.93,461.16 L134.88,460.68 L136.83,460.20 L138.79,459.72 L140.74,459.24 L142.70,458.76 L144.65,458.28 L146.60,457.80 L148.56,457.32 L150.51,456.84 L152.47,456.36 L154.42,455.88 L156.38,455.41 L158.33,454.93 L160.29,454.45 L162.24,453.97 L164.20,453.50 L166.15,453.02 L168.11,452.54 L170.07,452.07 L172.02,451.59 L173.98,451.12 L175.93,450.64 L177.89,450.16 L179.85,449.69 L181.80,449.21 L183.76,448.74 L185.72,448.26 L187.67,447.78 L189.63,447.31 L191.58,446.83 L193.54,446.36 L195.50,445.88 L197.45,445.40 L199.41,444.93 L201.37,444.45 L203.32,443.97 L205.28,443.50 L207.24,443.02 L209.19,442.54 L211.15,442.06 L213.11,441.59 L215.06,441.11 L217.02,440.63 L218.97,440.15 L220.93,439.67 L222.89,439.19 L224.84,438.71 L226.80,438.23 L228.75,437.75 L230.71,437.27 L232.67,436.79 L234.62,436.31 L236.58,435.82 L238.53,435.34 L240.49,434.86 L242.44,434.37 L244.40,433.89 L246.35,433.40 L248.31,432.92 L250.26,432.43 L252.21,431.94 L254.17,431.46 L256.12,430.97 L258.08,430.48 L260.03,429.99 L261.98,429.50 L263.94,429.01 L265.89,428.52 L267.84,428.02 L269.79,427.53 L271.75,427.03 L273.70,426.54 L275.65,426.04 L277.60,425.55 L279.55,425.05 L281.50,424.55 L283.45,424.05 L285.40,423.55 L287.35,423.05 L289.30,422.55 L291.25,422.04 L293.20,421.54 L295.15,421.03 L297.10,420.53 L299.05,420.02 L300.99,419.51 L302.94,419.00 L304.89,418.49 L306.84,417.98 L308.78,417.46 L310.73,416.95 L312.67,416.44 L314.62,415.92 L316.56,415.40 L318.51,414.88 L320.45,414.36 L322.40,413.84 L324.34,413.32 L326.28,412.79 L328.22,412.27 L330.17,411.74 L332.11,411.21 L334.05,410.68 L335.99,410.15 L337.93,409.62 L339.87,409.08 L341.81,408.55 L343.75,408.01 L345.68,407.47 L347.62,406.93 L349.56,406.39 L351.50,405.85 L353.43,405.30 L355.37,404.76 L357.30,404.21 L359.24,403.66 L361.17,403.11 L363.11,402.55 L365.04,402.00 L366.97,401.44 L368.90,400.88 L370.83,400.33 L372.76,399.76 L374.69,399.20 L376.62,398.64 L378.55,398.07 L380.48,397.50 L382.41,396.93 L384.34,396.36 L386.26,395.78 L388.19,395.21 L390.11,394.63 L392.04,394.05 L393.96,393.47 L395.89,392.88 L397.81,392.30 L399.73,391.71 L401.65,391.12 L403.57,390.53 L405.49,389.93 L407.41,389.34 L409.33,388.74 L411.25,388.14 L413.16,387.53 L415.08,386.93 L417.00,386.32 L418.91,385.71 L420.83,385.10 L422.74,384.49 L424.65,383.87 L426.56,383.25 L428.48,382.63 L430.39,382.01 L432.30,381.39 L434.20,380.76 L436.11,380.13 L438.02,379.50 L439.93,378.86 L441.83,378.23 L443.74,377.59 L445.64,376.94 L447.54,376.30 L449.45,375.65 L451.35,375.00 L453.25,374.35 L455.15,373.70 L457.05,373.04 L458.94,372.38 L460.84,371.72 L462.74,371.05 L464.63,370.39 L466.53,369.72 L468.42,369.04 L470.31,368.37 L472.21,367.69 L474.10,367.01 L475.99,366.33 L477.88,365.64 L479.76,364.95 L481.65,364.26 L483.54,363.57 L485.42,362.87 L487.31,362.17 L489.19,361.46 L491.07,360.76 L492.95,360.05 L494.83,359.34 L496.71,358.62 L498.59,357.91 L500.47,357.18 L502.34,356.46 L504.22,355.73 L506.09,355.00 L507.97,354.27 L509.84,353.54 L511.71,352.80 L513.58,352.05 L515.45,351.31 L517.32,350.56 L519.18,349.81 L521.05,349.05 L522.91,348.29 L524.77,347.52 L526.63,346.75 L528.49,345.98 L530.34,345.20 L532.20,344.42 L534.05,343.63 L535.90,342.84 L537.75,342.04 L539.59,341.24 L541.44,340.43 L543.28,339.62 L545.11,338.80 L546.95,337.97 L548.78,337.14 L550.61,336.31 L552.44,335.46 L554.26,334.61 L556.08,333.76 L557.90,332.89 L559.72,332.02 L561.53,331.15 L563.34,330.26 L565.14,329.37 L566.94,328.47 L568.74,327.56 L570.54,326.65 L572.33,325.73 L574.11,324.80 L575.90,323.86 L577.67,322.92 L579.45,321.96 L581.22,321.00 L582.99,320.03 L584.75,319.05 L586.50,318.05 L588.25,317.05 L590.00,316.04 L591.73,315.02 L593.46,313.98 L595.18,312.93 L596.88,311.87 L598.58,310.80 L600.27,309.70 L601.94,308.60 L603.60,307.47 L605.24,306.33 L606.87,305.18 L608.48,304.00 L610.08,302.81 L611.66,301.59 L613.22,300.36 L614.77,299.10 L616.29,297.82 L617.79,296.53 L619.28,295.20 L620.73,293.86 L622.17,292.49 L623.58,291.10 L624.97,289.68 L626.34,288.23 L627.67,286.76 L628.98,285.26 L630.27,283.73 L631.52,282.18 L632.74,280.59 L633.94,278.98 L635.10,277.33 L636.23,275.65 L637.33,273.94 L638.40,272.20" fill="none" stroke="#ff9a40" stroke-width="1.1" stroke-linejoin="round"/></g><path d="M74.20,474.40L86.40,474.40L80.30,464.20Z" fill="none" stroke="#ff9a40" stroke-width="1.25" stroke-linejoin="miter"/><path d="M116.59,467.61L128.79,467.61L122.69,457.41Z" fill="none" stroke="#ff9a40" stroke-width="1.25" stroke-linejoin="miter"/><path d="M158.97,457.10L171.17,457.10L165.07,446.90Z" fill="none" stroke="#ff9a40" stroke-width="1.25" stroke-linejoin="miter"/><path d="M201.36,446.59L213.56,446.59L207.46,436.39Z" fill="none" stroke="#ff9a40" stroke-width="1.25" stroke-linejoin="miter"/><path d="M243.74,435.96L255.94,435.96L249.84,425.76Z" fill="none" stroke="#ff9a40" stroke-width="1.25" stroke-linejoin="miter"/><path d="M286.13,425.45L298.33,425.45L292.23,415.25Z" fill="none" stroke="#ff9a40" stroke-width="1.25" stroke-linejoin="miter"/><path d="M328.52,414.06L340.72,414.06L334.62,403.86Z" fill="none" stroke="#ff9a40" stroke-width="1.25" stroke-linejoin="miter"/><path d="M370.90,401.60L383.10,401.60L377.00,391.40Z" fill="none" stroke="#ff9a40" stroke-width="1.25" stroke-linejoin="miter"/><path d="M413.29,388.60L425.49,388.60L419.39,378.40Z" fill="none" stroke="#ff9a40" stroke-width="1.25" stroke-linejoin="miter"/><path d="M455.67,374.80L467.87,374.80L461.77,364.60Z" fill="none" stroke="#ff9a40" stroke-width="1.25" stroke-linejoin="miter"/><path d="M498.06,359.30L510.26,359.30L504.16,349.10Z" fill="none" stroke="#ff9a40" stroke-width="1.25" stroke-linejoin="miter"/><path d="M540.45,341.20L552.65,341.20L546.55,331.00Z" fill="none" stroke="#ff9a40" stroke-width="1.25" stroke-linejoin="miter"/><path d="M582.83,318.70L595.03,318.70L588.93,308.50Z" fill="none" stroke="#ff9a40" stroke-width="1.25" stroke-linejoin="miter"/><path d="M625.22,293.70L637.42,293.70L631.32,283.50Z" fill="none" stroke="#ff9a40" stroke-width="1.25" stroke-linejoin="miter"/><g clip-path="url(#cp)"><path d="M80.30,474.40 L82.85,473.77 L85.40,473.15 L87.95,472.52 L90.51,471.90 L93.06,471.27 L95.61,470.65 L98.16,470.02 L100.72,469.40 L103.27,468.78 L105.83,468.15 L108.38,467.53 L110.93,466.91 L113.49,466.29 L116.04,465.67 L118.60,465.05 L121.15,464.43 L123.71,463.81 L126.26,463.19 L128.82,462.57 L131.38,461.95 L133.93,461.34 L136.49,460.72 L139.04,460.10 L141.60,459.49 L144.16,458.87 L146.72,458.26 L149.27,457.65 L151.83,457.03 L154.39,456.42 L156.95,455.81 L159.51,455.19 L162.07,454.58 L164.62,453.97 L167.18,453.36 L169.74,452.75 L172.30,452.14 L174.86,451.54 L177.42,450.93 L179.98,450.32 L182.54,449.71 L185.10,449.11 L187.66,448.50 L190.23,447.90 L192.79,447.30 L195.35,446.69 L197.91,446.09 L200.47,445.49 L203.03,444.89 L205.59,444.29 L208.16,443.69 L210.72,443.09 L213.28,442.49 L215.84,441.89 L218.41,441.29 L220.97,440.70 L223.53,440.10 L226.10,439.51 L228.66,438.91 L231.22,438.32 L233.79,437.72 L236.35,437.13 L238.92,436.54 L241.48,435.95 L244.04,435.36 L246.61,434.77 L249.17,434.18 L251.74,433.60 L254.30,433.01 L256.87,432.42 L259.43,431.84 L262.00,431.25 L264.56,430.67 L267.13,430.09 L269.70,429.50 L272.26,428.92 L274.83,428.34 L277.39,427.76 L279.96,427.18 L282.53,426.61 L285.09,426.03 L287.66,425.45 L290.23,424.88 L292.79,424.30 L295.36,423.73 L297.93,423.16 L300.49,422.58 L303.06,422.01 L305.63,421.44 L308.20,420.87 L310.76,420.31 L313.33,419.74 L315.90,419.17 L318.47,418.61 L321.03,418.04 L323.60,417.48 L326.17,416.92 L328.74,416.35 L331.31,415.79 L333.87,415.23 L336.44,414.67 L339.01,414.12 L341.58,413.56 L344.15,413.00 L346.72,412.45 L349.29,411.89 L351.85,411.34 L354.42,410.79 L356.99,410.24 L359.56,409.69 L362.13,409.14 L364.70,408.59 L367.27,408.04 L369.84,407.50 L372.41,406.95 L374.98,406.41 L377.54,405.86 L380.11,405.32 L382.68,404.78 L385.25,404.24 L387.82,403.71 L390.39,403.17 L392.96,402.64 L395.54,402.11 L398.11,401.58 L400.68,401.05 L403.25,400.53 L405.83,400.01 L408.40,399.49 L410.98,398.98 L413.55,398.47 L416.13,397.97 L418.71,397.46 L421.29,396.97 L423.87,396.48 L426.45,395.99 L429.03,395.51 L431.62,395.03 L434.20,394.56 L436.79,394.09 L439.38,393.63 L441.97,393.17 L444.56,392.72 L447.16,392.28 L449.75,391.84 L452.35,391.42 L454.95,390.99 L457.55,390.58 L460.16,390.17 L462.76,389.77 L465.37,389.37 L467.98,388.99 L470.59,388.61 L473.21,388.23 L475.82,387.85 L478.44,387.48 L481.05,387.11 L483.67,386.74 L486.28,386.37 L488.90,386.00 L491.52,385.63 L494.13,385.25 L496.74,384.87 L499.36,384.48 L501.97,384.09 L504.58,383.69 L507.19,383.28 L509.79,382.87 L512.39,382.44 L514.99,382.00 L517.59,381.56 L520.19,381.10 L522.78,380.62 L525.36,380.13 L527.95,379.63 L530.53,379.11 L533.10,378.57 L535.67,378.01 L538.23,377.43 L540.79,376.84 L543.35,376.22 L545.89,375.58 L548.44,374.92 L550.97,374.23 L553.50,373.52 L556.02,372.78 L558.54,372.02 L561.05,371.23 L563.55,370.41 L566.04,369.56 L568.53,368.68 L571.00,367.77 L573.47,366.82 L575.93,365.84 L578.38,364.83 L580.82,363.78 L583.25,362.70 L585.68,361.58 L588.08,360.42 L590.47,359.21 L592.83,357.96 L595.15,356.66 L597.43,355.31 L599.65,353.89 L601.81,352.42 L603.90,350.87 L605.91,349.26 L607.83,347.57 L609.66,345.81 L611.39,343.96 L613.01,342.03 L614.52,340.02 L615.93,337.93 L617.25,335.78 L618.48,333.56 L619.63,331.27 L620.69,328.94 L621.68,326.55 L622.60,324.11 L623.45,321.63 L624.25,319.12 L624.99,316.57 L625.67,313.99 L626.31,311.39 L626.91,308.77 L627.48,306.14 L628.01,303.50 L628.52,300.86 L629.01,298.21 L629.47,295.57 L629.92,292.93 L630.35,290.29 L630.76,287.65 L631.15,285.01 L631.52,282.37 L631.88,279.74 L632.22,277.10 L632.54,274.47 L632.85,271.84 L633.14,269.21 L633.41,266.58 L633.68,263.95 L633.92,261.32 L634.16,258.69 L634.38,256.07 L634.58,253.44 L634.78,250.82 L634.96,248.19 L635.13,245.57 L635.29,242.95 L635.43,240.33 L635.57,237.70 L635.70,235.08 L635.81,232.46 L635.92,229.84 L636.02,227.22 L636.11,224.60 L636.19,221.98 L636.27,219.36 L636.34,216.75 L636.40,214.13 L636.45,211.51 L636.50,208.89 L636.55,206.27 L636.58,203.65 L636.62,201.04 L636.65,198.42 L636.67,195.80 L636.70,193.18 L636.71,190.56 L636.73,187.94 L636.75,185.32 L636.76,182.70 L636.77,180.08 L636.78,177.46 L636.79,174.84 L636.80,172.22 L636.81,169.60 L636.82,166.98 L636.84,164.35 L636.85,161.73 L636.87,159.11 L636.89,156.48 L636.91,153.85 L636.93,151.23 L636.96,148.60 L637.00,145.97 L637.03,143.34 L637.08,140.71 L637.12,138.08 L637.18,135.45 L637.24,132.81 L637.31,130.18 L637.38,127.54 L637.46,124.91 L637.55,122.27 L637.65,119.63 L637.76,116.99 L637.87,114.34 L638.00,111.70" fill="none" stroke="#a2142f" stroke-width="1.1" stroke-linejoin="round"/></g><path d="M74.20,474.40L86.40,474.40L80.30,464.20Z" fill="none" stroke="#a2142f" stroke-width="1.25" stroke-linejoin="miter"/><path d="M116.59,467.72L128.79,467.72L122.69,457.52Z" fill="none" stroke="#a2142f" stroke-width="1.25" stroke-linejoin="miter"/><path d="M158.97,457.56L171.17,457.56L165.07,447.36Z" fill="none" stroke="#a2142f" stroke-width="1.25" stroke-linejoin="miter"/><path d="M201.36,447.52L213.56,447.52L207.46,437.32Z" fill="none" stroke="#a2142f" stroke-width="1.25" stroke-linejoin="miter"/><path d="M243.74,437.71L255.94,437.71L249.84,427.51Z" fill="none" stroke="#a2142f" stroke-width="1.25" stroke-linejoin="miter"/><path d="M286.13,427.78L298.33,427.78L292.23,417.58Z" fill="none" stroke="#a2142f" stroke-width="1.25" stroke-linejoin="miter"/><path d="M328.52,418.56L340.72,418.56L334.62,408.36Z" fill="none" stroke="#a2142f" stroke-width="1.25" stroke-linejoin="miter"/><path d="M370.90,409.50L383.10,409.50L377.00,399.30Z" fill="none" stroke="#a2142f" stroke-width="1.25" stroke-linejoin="miter"/><path d="M413.29,401.10L425.49,401.10L419.39,390.90Z" fill="none" stroke="#a2142f" stroke-width="1.25" stroke-linejoin="miter"/><path d="M455.67,392.90L467.87,392.90L461.77,382.70Z" fill="none" stroke="#a2142f" stroke-width="1.25" stroke-linejoin="miter"/><path d="M498.06,385.30L510.26,385.30L504.16,375.10Z" fill="none" stroke="#a2142f" stroke-width="1.25" stroke-linejoin="miter"/><path d="M540.45,378.60L552.65,378.60L546.55,368.40Z" fill="none" stroke="#a2142f" stroke-width="1.25" stroke-linejoin="miter"/><path d="M582.83,361.80L595.03,361.80L588.93,351.60Z" fill="none" stroke="#a2142f" stroke-width="1.25" stroke-linejoin="miter"/><path d="M625.22,295.30L637.42,295.30L631.32,285.10Z" fill="none" stroke="#a2142f" stroke-width="1.25" stroke-linejoin="miter"/><g clip-path="url(#cp)"><path d="M80.30,474.40 L82.42,473.88 L84.55,473.37 L86.67,472.85 L88.80,472.33 L90.92,471.81 L93.05,471.30 L95.17,470.78 L97.30,470.26 L99.42,469.74 L101.55,469.23 L103.67,468.71 L105.80,468.19 L107.92,467.67 L110.05,467.15 L112.18,466.63 L114.30,466.11 L116.43,465.59 L118.55,465.07 L120.68,464.55 L122.81,464.03 L124.93,463.51 L127.06,462.99 L129.19,462.47 L131.31,461.95 L133.44,461.42 L135.57,460.90 L137.69,460.38 L139.82,459.85 L141.95,459.33 L144.07,458.80 L146.20,458.28 L148.33,457.75 L150.46,457.22 L152.58,456.70 L154.71,456.17 L156.84,455.64 L158.96,455.11 L161.09,454.58 L163.21,454.05 L165.34,453.52 L167.47,452.99 L169.59,452.45 L171.72,451.92 L173.84,451.39 L175.97,450.85 L178.10,450.31 L180.22,449.78 L182.35,449.24 L184.47,448.70 L186.60,448.16 L188.72,447.62 L190.85,447.08 L192.97,446.54 L195.10,445.99 L197.22,445.45 L199.34,444.90 L201.47,444.36 L203.59,443.81 L205.71,443.26 L207.84,442.71 L209.96,442.16 L212.08,441.61 L214.20,441.06 L216.32,440.50 L218.45,439.95 L220.57,439.39 L222.69,438.84 L224.81,438.28 L226.93,437.72 L229.05,437.16 L231.17,436.59 L233.29,436.03 L235.40,435.46 L237.52,434.90 L239.64,434.33 L241.76,433.76 L243.88,433.19 L245.99,432.62 L248.11,432.05 L250.23,431.47 L252.34,430.89 L254.46,430.32 L256.57,429.74 L258.68,429.16 L260.80,428.57 L262.91,427.99 L265.02,427.40 L267.14,426.82 L269.25,426.23 L271.36,425.64 L273.47,425.05 L275.58,424.45 L277.69,423.86 L279.80,423.26 L281.91,422.66 L284.02,422.06 L286.12,421.46 L288.23,420.86 L290.34,420.25 L292.44,419.64 L294.55,419.04 L296.65,418.42 L298.76,417.81 L300.86,417.20 L302.96,416.58 L305.07,415.96 L307.17,415.34 L309.27,414.72 L311.37,414.09 L313.47,413.47 L315.57,412.84 L317.67,412.21 L319.76,411.58 L321.86,410.94 L323.96,410.30 L326.05,409.67 L328.15,409.02 L330.24,408.38 L332.33,407.74 L334.43,407.09 L336.52,406.44 L338.61,405.79 L340.70,405.13 L342.79,404.48 L344.88,403.82 L346.97,403.16 L349.05,402.50 L351.14,401.83 L353.22,401.16 L355.31,400.49 L357.39,399.82 L359.48,399.15 L361.56,398.47 L363.64,397.79 L365.72,397.11 L367.80,396.42 L369.88,395.74 L371.95,395.05 L374.03,394.35 L376.11,393.66 L378.18,392.96 L380.26,392.26 L382.33,391.56 L384.40,390.86 L386.47,390.15 L388.54,389.44 L390.61,388.73 L392.68,388.01 L394.75,387.29 L396.81,386.57 L398.88,385.85 L400.94,385.12 L403.01,384.39 L405.07,383.66 L407.13,382.93 L409.19,382.19 L411.25,381.45 L413.31,380.71 L415.36,379.96 L417.42,379.21 L419.47,378.46 L421.53,377.70 L423.58,376.95 L425.63,376.19 L427.68,375.42 L429.73,374.66 L431.78,373.89 L433.82,373.11 L435.87,372.34 L437.92,371.56 L439.96,370.78 L442.00,369.99 L444.04,369.20 L446.08,368.41 L448.12,367.62 L450.16,366.82 L452.19,366.02 L454.23,365.21 L456.26,364.41 L458.30,363.60 L460.33,362.78 L462.36,361.96 L464.39,361.14 L466.41,360.32 L468.44,359.49 L470.46,358.66 L472.49,357.83 L474.51,356.99 L476.53,356.15 L478.55,355.31 L480.57,354.46 L482.59,353.61 L484.60,352.75 L486.62,351.89 L488.63,351.03 L490.64,350.17 L492.65,349.30 L494.66,348.43 L496.67,347.55 L498.67,346.67 L500.68,345.79 L502.68,344.90 L504.68,344.01 L506.68,343.11 L508.68,342.22 L510.68,341.31 L512.68,340.41 L514.67,339.50 L516.66,338.59 L518.65,337.67 L520.64,336.75 L522.63,335.82 L524.62,334.89 L526.61,333.96 L528.59,333.03 L530.58,332.10 L532.57,331.17 L534.56,330.25 L536.55,329.33 L538.55,328.42 L540.55,327.52 L542.56,326.63 L544.57,325.76 L546.60,324.91 L548.63,324.07 L550.67,323.25 L552.73,322.46 L554.79,321.69 L556.87,320.94 L558.96,320.22 L561.06,319.54 L563.18,318.88 L565.31,318.26 L567.46,317.67 L569.63,317.12 L571.81,316.61 L574.00,316.16 L576.20,315.76 L578.39,315.42 L580.58,315.14 L582.76,314.95 L584.93,314.83 L587.08,314.79 L589.20,314.85 L591.30,315.01 L593.37,315.27 L595.39,315.64 L597.38,316.13 L599.32,316.74 L601.21,317.48 L603.05,318.35 L604.83,319.34 L606.56,320.45 L608.24,321.67 L609.86,322.99 L611.43,324.41 L612.94,325.92 L614.41,327.52 L615.82,329.20 L617.17,330.95 L618.47,332.77 L619.72,334.64 L620.92,336.58 L622.06,338.55 L623.15,340.58 L624.19,342.63 L625.17,344.72 L626.10,346.83 L626.98,348.95 L627.80,351.08 L628.57,353.22 L629.29,355.36 L629.96,357.50 L630.58,359.65 L631.16,361.79 L631.70,363.93 L632.19,366.08 L632.65,368.22 L633.08,370.37 L633.47,372.52 L633.83,374.67 L634.17,376.82 L634.48,378.97 L634.77,381.13 L635.04,383.28 L635.29,385.44 L635.53,387.60 L635.75,389.75 L635.96,391.91 L636.17,394.08 L636.37,396.24 L636.57,398.40 L636.77,400.57 L636.97,402.74 L637.18,404.91 L637.39,407.08 L637.61,409.25 L637.85,411.42 L638.10,413.60" fill="none" stroke="#77ac30" stroke-width="1.1" stroke-linejoin="round"/></g><path d="M74.20,474.40L86.40,474.40L80.30,464.20Z" fill="none" stroke="#77ac30" stroke-width="1.25" stroke-linejoin="miter"/><path d="M116.59,467.10L128.79,467.10L122.69,456.90Z" fill="none" stroke="#77ac30" stroke-width="1.25" stroke-linejoin="miter"/><path d="M158.97,457.50L171.17,457.50L165.07,447.30Z" fill="none" stroke="#77ac30" stroke-width="1.25" stroke-linejoin="miter"/><path d="M201.36,446.40L213.56,446.40L207.46,436.20Z" fill="none" stroke="#77ac30" stroke-width="1.25" stroke-linejoin="miter"/><path d="M243.74,435.08L255.94,435.08L249.84,424.88Z" fill="none" stroke="#77ac30" stroke-width="1.25" stroke-linejoin="miter"/><path d="M286.13,423.70L298.33,423.70L292.23,413.50Z" fill="none" stroke="#77ac30" stroke-width="1.25" stroke-linejoin="miter"/><path d="M328.52,410.97L340.72,410.97L334.62,400.77Z" fill="none" stroke="#77ac30" stroke-width="1.25" stroke-linejoin="miter"/><path d="M370.90,397.10L383.10,397.10L377.00,386.90Z" fill="none" stroke="#77ac30" stroke-width="1.25" stroke-linejoin="miter"/><path d="M413.29,382.10L425.49,382.10L419.39,371.90Z" fill="none" stroke="#77ac30" stroke-width="1.25" stroke-linejoin="miter"/><path d="M455.67,365.10L467.87,365.10L461.77,354.90Z" fill="none" stroke="#77ac30" stroke-width="1.25" stroke-linejoin="miter"/><path d="M498.06,346.90L510.26,346.90L504.16,336.70Z" fill="none" stroke="#77ac30" stroke-width="1.25" stroke-linejoin="miter"/><path d="M540.45,329.30L552.65,329.30L546.55,319.10Z" fill="none" stroke="#77ac30" stroke-width="1.25" stroke-linejoin="miter"/><path d="M582.83,321.80L595.03,321.80L588.93,311.60Z" fill="none" stroke="#77ac30" stroke-width="1.25" stroke-linejoin="miter"/><path d="M625.22,354.60L637.42,354.60L631.32,344.40Z" fill="none" stroke="#77ac30" stroke-width="1.25" stroke-linejoin="miter"/></g>
<g font-family="'Liberation Sans',sans-serif" font-size="22" fill="#000"><text x="80.30" y="503" text-anchor="middle">0</text><text x="165.07" y="503" text-anchor="middle">2</text><text x="249.84" y="503" text-anchor="middle">4</text><text x="334.62" y="503" text-anchor="middle">6</text><text x="419.39" y="503" text-anchor="middle">8</text><text x="504.16" y="503" text-anchor="middle">10</text><text x="588.93" y="503" text-anchor="middle">12</text><text x="673.70" y="503" text-anchor="middle">14</text><text x="71" y="481.80" text-anchor="end">0</text><text x="71" y="423.41" text-anchor="end">0.01</text><text x="71" y="365.02" text-anchor="end">0.02</text><text x="71" y="306.63" text-anchor="end">0.03</text><text x="71" y="248.24" text-anchor="end">0.04</text><text x="71" y="189.85" text-anchor="end">0.05</text><text x="71" y="131.46" text-anchor="end">0.06</text><text x="71" y="73.07" text-anchor="end">0.07</text><text x="71" y="14.68" text-anchor="end">0.08</text><text x="376" y="532.5" text-anchor="middle" font-size="24.2">Boresight angle <tspan font-family="Liberation Serif" font-style="italic">θ</tspan> [deg]</text><text transform="translate(17.3,241.45) rotate(-90)" text-anchor="middle" font-size="23.95">Weight w [1/deg]</text></g>
<g fill="#000"><rect x="103.5" y="18.4" width="120.2" height="174.7" fill="#fff" stroke="#2a2a2a" stroke-width="1.15"/><line x1="108.5" y1="32.90" x2="163.2" y2="32.90" stroke="#00ffff" stroke-width="0.85"/><path transform="translate(166,37.80)" d="M2.2,-6.2 C2.9,-7.7 3.8,-8.5 4.6,-8.5 C5.4,-8.5 5.6,-7.8 5.4,-7.0 C5.0,-5.4 4.5,-3.6 4.5,-2.4 C4.5,-0.8 5.3,-0.1 6.3,-0.1 C7.7,-0.1 8.6,-1.2 9.0,-2.4 L9.2,-3.0 M10.4,-8.3 C10.0,-6.4 9.4,-4.2 9.4,-2.6 C9.4,-0.9 10.2,-0.1 11.2,-0.1 C12.7,-0.1 13.6,-1.4 14.1,-3.4 C14.5,-5.0 14.6,-6.6 14.4,-7.6 C14.3,-8.2 13.9,-8.4 13.6,-8.2" fill="none" stroke="#000" stroke-width="1.4" stroke-linecap="round"/><path transform="translate(176.4,27.30)" d="M-5.9,0.1 Q-3,-2 0,-4.0 Q3,-2 5.9,0.1 L5.3,0.4 Q2.8,-1.2 0,-2.7 Q-2.8,-1.2 -5.3,0.4 Z" fill="#000"/><line x1="188.5" y1="30.90" x2="201.7" y2="30.90" stroke="#000" stroke-width="1.0"/><line x1="188.5" y1="35.10" x2="201.7" y2="35.10" stroke="#000" stroke-width="1.0"/><text x="208.6" y="37.80" font-family="Liberation Serif" font-size="19.5" transform="translate(208.6,0) scale(1.06,1) translate(-208.6,0)">1</text><line x1="108.5" y1="57.10" x2="163.2" y2="57.10" stroke="#ff5a5a" stroke-width="0.85"/><path transform="translate(166,61.80)" d="M2.2,-6.2 C2.9,-7.7 3.8,-8.5 4.6,-8.5 C5.4,-8.5 5.6,-7.8 5.4,-7.0 C5.0,-5.4 4.5,-3.6 4.5,-2.4 C4.5,-0.8 5.3,-0.1 6.3,-0.1 C7.7,-0.1 8.6,-1.2 9.0,-2.4 L9.2,-3.0 M10.4,-8.3 C10.0,-6.4 9.4,-4.2 9.4,-2.6 C9.4,-0.9 10.2,-0.1 11.2,-0.1 C12.7,-0.1 13.6,-1.4 14.1,-3.4 C14.5,-5.0 14.6,-6.6 14.4,-7.6 C14.3,-8.2 13.9,-8.4 13.6,-8.2" fill="none" stroke="#000" stroke-width="1.4" stroke-linecap="round"/><path transform="translate(176.4,51.30)" d="M-5.9,0.1 Q-3,-2 0,-4.0 Q3,-2 5.9,0.1 L5.3,0.4 Q2.8,-1.2 0,-2.7 Q-2.8,-1.2 -5.3,0.4 Z" fill="#000"/><text x="182.5" y="64.50" font-family="Liberation Serif" font-size="14">1</text><line x1="108.5" y1="81.20" x2="163.2" y2="81.20" stroke="#5fa0e0" stroke-width="0.85"/><path transform="translate(166,85.90)" d="M2.2,-6.2 C2.9,-7.7 3.8,-8.5 4.6,-8.5 C5.4,-8.5 5.6,-7.8 5.4,-7.0 C5.0,-5.4 4.5,-3.6 4.5,-2.4 C4.5,-0.8 5.3,-0.1 6.3,-0.1 C7.7,-0.1 8.6,-1.2 9.0,-2.4 L9.2,-3.0 M10.4,-8.3 C10.0,-6.4 9.4,-4.2 9.4,-2.6 C9.4,-0.9 10.2,-0.1 11.2,-0.1 C12.7,-0.1 13.6,-1.4 14.1,-3.4 C14.5,-5.0 14.6,-6.6 14.4,-7.6 C14.3,-8.2 13.9,-8.4 13.6,-8.2" fill="none" stroke="#000" stroke-width="1.4" stroke-linecap="round"/><path transform="translate(176.4,75.40)" d="M-5.9,0.1 Q-3,-2 0,-4.0 Q3,-2 5.9,0.1 L5.3,0.4 Q2.8,-1.2 0,-2.7 Q-2.8,-1.2 -5.3,0.4 Z" fill="#000"/><text x="182.5" y="88.60" font-family="Liberation Serif" font-size="14">2</text><line x1="108.5" y1="105.40" x2="163.2" y2="105.40" stroke="#ff9a40" stroke-width="0.85"/><path transform="translate(166,110.00)" d="M2.2,-6.2 C2.9,-7.7 3.8,-8.5 4.6,-8.5 C5.4,-8.5 5.6,-7.8 5.4,-7.0 C5.0,-5.4 4.5,-3.6 4.5,-2.4 C4.5,-0.8 5.3,-0.1 6.3,-0.1 C7.7,-0.1 8.6,-1.2 9.0,-2.4 L9.2,-3.0 M10.4,-8.3 C10.0,-6.4 9.4,-4.2 9.4,-2.6 C9.4,-0.9 10.2,-0.1 11.2,-0.1 C12.7,-0.1 13.6,-1.4 14.1,-3.4 C14.5,-5.0 14.6,-6.6 14.4,-7.6 C14.3,-8.2 13.9,-8.4 13.6,-8.2" fill="none" stroke="#000" stroke-width="1.4" stroke-linecap="round"/><path transform="translate(176.4,99.50)" d="M-5.9,0.1 Q-3,-2 0,-4.0 Q3,-2 5.9,0.1 L5.3,0.4 Q2.8,-1.2 0,-2.7 Q-2.8,-1.2 -5.3,0.4 Z" fill="#000"/><text x="182.5" y="112.80" font-family="Liberation Serif" font-size="14">3</text><line x1="108.5" y1="129.60" x2="163.2" y2="129.60" stroke="#a2142f" stroke-width="0.85"/><path transform="translate(166,134.20)" d="M2.2,-6.2 C2.9,-7.7 3.8,-8.5 4.6,-8.5 C5.4,-8.5 5.6,-7.8 5.4,-7.0 C5.0,-5.4 4.5,-3.6 4.5,-2.4 C4.5,-0.8 5.3,-0.1 6.3,-0.1 C7.7,-0.1 8.6,-1.2 9.0,-2.4 L9.2,-3.0 M10.4,-8.3 C10.0,-6.4 9.4,-4.2 9.4,-2.6 C9.4,-0.9 10.2,-0.1 11.2,-0.1 C12.7,-0.1 13.6,-1.4 14.1,-3.4 C14.5,-5.0 14.6,-6.6 14.4,-7.6 C14.3,-8.2 13.9,-8.4 13.6,-8.2" fill="none" stroke="#000" stroke-width="1.4" stroke-linecap="round"/><path transform="translate(176.4,123.70)" d="M-5.9,0.1 Q-3,-2 0,-4.0 Q3,-2 5.9,0.1 L5.3,0.4 Q2.8,-1.2 0,-2.7 Q-2.8,-1.2 -5.3,0.4 Z" fill="#000"/><text x="182.5" y="137.00" font-family="Liberation Serif" font-size="14">4</text><line x1="108.5" y1="153.70" x2="163.2" y2="153.70" stroke="#77ac30" stroke-width="0.85"/><path transform="translate(166,158.40)" d="M2.2,-6.2 C2.9,-7.7 3.8,-8.5 4.6,-8.5 C5.4,-8.5 5.6,-7.8 5.4,-7.0 C5.0,-5.4 4.5,-3.6 4.5,-2.4 C4.5,-0.8 5.3,-0.1 6.3,-0.1 C7.7,-0.1 8.6,-1.2 9.0,-2.4 L9.2,-3.0 M10.4,-8.3 C10.0,-6.4 9.4,-4.2 9.4,-2.6 C9.4,-0.9 10.2,-0.1 11.2,-0.1 C12.7,-0.1 13.6,-1.4 14.1,-3.4 C14.5,-5.0 14.6,-6.6 14.4,-7.6 C14.3,-8.2 13.9,-8.4 13.6,-8.2" fill="none" stroke="#000" stroke-width="1.4" stroke-linecap="round"/><path transform="translate(176.4,147.90)" d="M-5.9,0.1 Q-3,-2 0,-4.0 Q3,-2 5.9,0.1 L5.3,0.4 Q2.8,-1.2 0,-2.7 Q-2.8,-1.2 -5.3,0.4 Z" fill="#000"/><text x="182.5" y="161.10" font-family="Liberation Serif" font-size="14">5</text><line x1="108.5" y1="178.20" x2="163.2" y2="178.20" stroke="#f85555" stroke-width="0.85"/><circle cx="136.00" cy="178.00" r="5.7" fill="#f85555"/><path transform="translate(166,182.60)" d="M2.2,-6.2 C2.9,-7.7 3.8,-8.5 4.6,-8.5 C5.4,-8.5 5.6,-7.8 5.4,-7.0 C5.0,-5.4 4.5,-3.6 4.5,-2.4 C4.5,-0.8 5.3,-0.1 6.3,-0.1 C7.7,-0.1 8.6,-1.2 9.0,-2.4 L9.2,-3.0 M10.4,-8.3 C10.0,-6.4 9.4,-4.2 9.4,-2.6 C9.4,-0.9 10.2,-0.1 11.2,-0.1 C12.7,-0.1 13.6,-1.4 14.1,-3.4 C14.5,-5.0 14.6,-6.6 14.4,-7.6 C14.3,-8.2 13.9,-8.4 13.6,-8.2" fill="none" stroke="#000" stroke-width="1.4" stroke-linecap="round"/><path transform="translate(176.4,172.10)" d="M-5.9,0.1 Q-3,-2 0,-4.0 Q3,-2 5.9,0.1 L5.3,0.4 Q2.8,-1.2 0,-2.7 Q-2.8,-1.2 -5.3,0.4 Z" fill="#000"/><text x="182.5" y="187.10" font-family="Liberation Serif" textLength="33" lengthAdjust="spacingAndGlyphs" font-size="15">1,est</text></g>
</svg>
</body></html>
